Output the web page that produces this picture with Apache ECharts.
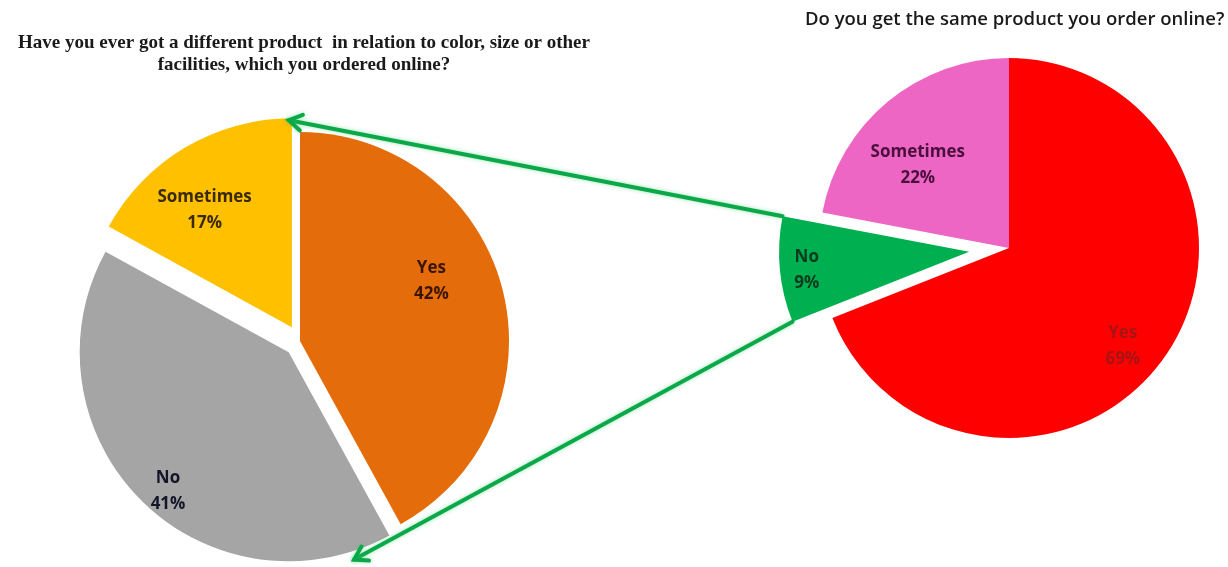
<!DOCTYPE html>
<html>
<head>
<meta charset="utf-8">
<script src="https://cdn.jsdelivr.net/npm/echarts@6/dist/echarts.min.js"></script>
<style>
  html, body { margin: 0; padding: 0; background: #ffffff; }
  #chart { width: 1228px; height: 567px; }
</style>
</head>
<body>
<div id="chart"></div>
<script>
// Survey answers, in clockwise order starting at 12 o'clock
const differentCategories = ['Yes', 'No', 'Sometimes'];
const differentValues = [42, 41, 17];
const sameCategories = ['Yes', 'No', 'Sometimes'];
const sameValues = [69, 9, 22];

const differentTitle = 'Have you ever got a different product  in relation to color, size or other\nfacilities, which you ordered online?';
const sameTitle = 'Do you get the same product you order online?';

// Pie geometry (pixels)
const LEFT = { cx: 300, cy: 341, r: 209, offset: 16 };
const RIGHT = { cx: 1009, cy: 248, r: 190, offset: 40 };
const leftColors = ['#E46C0A', '#A5A5A5', '#FFC000'];
const rightColors = ['#FF0000', '#00B050', '#EE66C4'];
const leftLabelColors = ['#3a1600', '#14142a', '#3a2a00'];
const rightLabelColors = ['#a81414', '#0c3a1c', '#4a0f3c'];
const leftExploded = [false, true, true];
const rightExploded = [false, true, false];
// label placement: [fraction of radius, angular nudge in degrees] from slice bisector
const leftLabelAt = [[0.69, 10], [0.88, 4], [0.70, 6]];
const rightLabelAt = [[0.79, -6.5], [0.86, 1], [0.65, 8]];

function rad(d) { return d * Math.PI / 180; }
function polar(cx, cy, r, deg) { return [cx + r * Math.cos(rad(deg)), cy - r * Math.sin(rad(deg))]; }

// start / end / mid angles (math convention) of each slice, drawn clockwise from 90deg
function sliceAngles(values) {
  const total = values.reduce((a, b) => a + b, 0);
  let acc = 0;
  return values.map(v => {
    const start = 90 - acc / total * 360;
    acc += v;
    const end = 90 - acc / total * 360;
    return { start, end, mid: (start + end) / 2 };
  });
}

function sliceVertex(geo, angles, exploded, i) {
  return exploded[i] ? polar(geo.cx, geo.cy, geo.offset, angles[i].mid) : [geo.cx, geo.cy];
}

const leftAngles = sliceAngles(differentValues);
const rightAngles = sliceAngles(sameValues);

const labelFont = {
  fontFamily: 'Open Sans',
  fontWeight: 700,
  fontSize: 17,
  lineHeight: 26,
  align: 'center'
};

// Coloured sectors, with the exploded slices pulled out
function makePie(geo, cats, vals, colors, exploded) {
  return {
    type: 'pie',
    center: [geo.cx, geo.cy],
    radius: [0, geo.r],
    startAngle: 90,
    clockwise: true,
    selectedMode: 'multiple',
    selectedOffset: geo.offset,
    animation: false,
    silent: true,
    label: { show: false },
    labelLine: { show: false },
    data: cats.map((c, i) => ({
      name: c,
      value: vals[i],
      selected: exploded[i],
      itemStyle: { color: colors[i] }
    }))
  };
}

// Transparent twin of a pie that carries the "name / percent" labels
function makePieLabels(geo, cats, vals, labelColors, exploded, angles, labelAt) {
  return {
    type: 'pie',
    center: [geo.cx, geo.cy],
    radius: [0, geo.r],
    startAngle: 90,
    clockwise: true,
    animation: false,
    silent: true,
    z: 5,
    itemStyle: { color: 'rgba(0,0,0,0)' },
    label: Object.assign({
      show: true,
      position: 'inside',
      formatter: p => p.name + '\n' + p.value + '%'
    }, labelFont),
    labelLine: { show: false },
    labelLayout: function (params) {
      const i = params.dataIndex;
      const v = sliceVertex(geo, angles, exploded, i);
      const p = polar(v[0], v[1], geo.r * labelAt[i][0], angles[i].mid + labelAt[i][1]);
      return { x: p[0], y: p[1] };
    },
    data: cats.map((c, i) => ({
      name: c,
      value: vals[i],
      label: { color: labelColors[i] }
    }))
  };
}

// Connector arrows from the exploded "No" slice to the left pie
const greenVertex = sliceVertex(RIGHT, rightAngles, rightExploded, 1);
const arrowTopStart = polar(greenVertex[0], greenVertex[1], RIGHT.r, rightAngles[1].end);
const arrowBotStart = polar(greenVertex[0], greenVertex[1], RIGHT.r, rightAngles[1].start);
const yellowVertex = sliceVertex(LEFT, leftAngles, leftExploded, 2);
const grayVertex = sliceVertex(LEFT, leftAngles, leftExploded, 1);
const arrowTopEnd = polar(yellowVertex[0] - 3, yellowVertex[1] + 2, LEFT.r, 90);
const arrowBotEnd = polar(grayVertex[0], grayVertex[1], LEFT.r * 1.04, -72.5);

const ARROW_COLOR = '#0BA84A';
function arrow(from, to) {
  const ang = Math.atan2(to[1] - from[1], to[0] - from[0]);
  const len = 15, spread = rad(32);
  const a1 = [to[0] - len * Math.cos(ang - spread), to[1] - len * Math.sin(ang - spread)];
  const a2 = [to[0] - len * Math.cos(ang + spread), to[1] - len * Math.sin(ang + spread)];
  const style = {
    stroke: ARROW_COLOR, lineWidth: 4, fill: null, lineCap: 'round', lineJoin: 'miter',
    shadowBlur: 4, shadowColor: 'rgba(40,200,90,0.45)'
  };
  return [
    { type: 'polyline', z: 100, silent: true, shape: { points: [from, to] }, style },
    { type: 'polyline', z: 100, silent: true, shape: { points: [a1, to, a2] }, style }
  ];
}

const chart = echarts.init(document.getElementById('chart'), null, { renderer: 'canvas' });
chart.setOption({
  backgroundColor: '#ffffff',
  animation: false,
  title: [
    {
      text: differentTitle,
      left: 299,
      top: 27,
      textAlign: 'center',
      textStyle: {
        fontFamily: 'Liberation Serif',
        fontWeight: 'bold',
        fontSize: 19,
        lineHeight: 22,
        color: '#1a1a1a',
        align: 'center'
      }
    },
    {
      text: sameTitle,
      left: 800,
      top: 5,
      textStyle: {
        fontFamily: 'Open Sans',
        fontWeight: 600,
        fontSize: 18.5,
        color: '#1a1a1a'
      }
    }
  ],
  series: [
    makePie(LEFT, differentCategories, differentValues, leftColors, leftExploded),
    makePie(RIGHT, sameCategories, sameValues, rightColors, rightExploded),
    makePieLabels(LEFT, differentCategories, differentValues, leftLabelColors, leftExploded, leftAngles, leftLabelAt),
    makePieLabels(RIGHT, sameCategories, sameValues, rightLabelColors, rightExploded, rightAngles, rightLabelAt)
  ],
  graphic: [].concat(arrow(arrowTopStart, arrowTopEnd), arrow(arrowBotStart, arrowBotEnd))
});
</script>
</body>
</html>
